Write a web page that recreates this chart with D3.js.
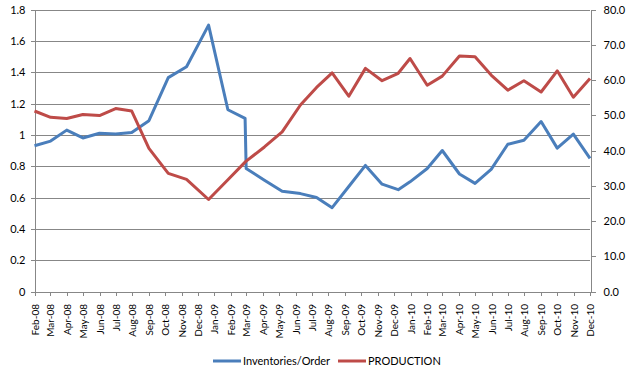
<!DOCTYPE html>
<html>
<head>
<meta charset="utf-8">
<script src="https://cdn.jsdelivr.net/npm/d3@7"></script>
<style>
  body { margin: 0; background: #fff; }
  svg text { font-family: Lato, "Liberation Sans", sans-serif; fill: #000; }
  .grid line { stroke: #878787; stroke-width: 1; }
  .axis path, .axis line { stroke: #878787; shape-rendering: crispEdges; }
</style>
</head>
<body>
<div id="chart"></div>
<script>
(function(){
  const obsDates = ['2008-02-01','2008-03-02','2008-04-01','2008-05-01','2008-06-01','2008-07-01',
    '2008-07-31','2008-09-01','2008-10-07','2008-11-10','2008-12-21','2009-01-26','2009-02-27',
    '2009-03-01','2009-04-04','2009-05-07','2009-06-10','2009-07-10','2009-08-08','2009-09-08',
    '2009-10-09','2009-11-09','2009-12-09','2009-12-31','2010-02-01','2010-03-01','2010-04-02',
    '2010-05-01','2010-05-31','2010-07-01','2010-07-31','2010-09-01','2010-10-01','2010-10-31',
    '2010-12-01'];

  // Inventories/Order, left axis
  const inventories = [0.93, 0.96, 1.03, 0.98, 1.01, 1.005, 1.015, 1.09, 1.365, 1.435, 1.70,
    1.16, 1.105, 0.785, 0.71, 0.64, 0.625, 0.60, 0.535, 0.67, 0.805, 0.685, 0.65, 0.70, 0.785,
    0.90, 0.75, 0.69, 0.78, 0.94, 0.965, 1.085, 0.915, 1.005, 0.85];

  // PRODUCTION, right axis
  const production = [51.2, 49.4, 49.1, 50.2, 49.9, 51.9, 51.2, 40.6, 33.5, 31.8, 26.1,
    31.7, 36.7, 37.0, 41.0, 45.3, 52.9, 57.9, 62.0, 55.4, 63.3, 59.8, 61.9, 66.1, 58.5,
    61.1, 66.8, 66.6, 61.4, 57.1, 59.8, 56.6, 62.6, 55.1, 60.4];

  const leftTicks = [0, 0.2, 0.4, 0.6, 0.8, 1, 1.2, 1.4, 1.6, 1.8];
  const rightTicks = [0, 10, 20, 30, 40, 50, 60, 70, 80];
  const seriesNames = ['Inventories/Order', 'PRODUCTION'];
  const seriesColors = ['#4a7ebb', '#be4b48'];

  const width = 638, height = 377;
  const plotLeft = 34, plotRight = 590, plotTop = 9.5, plotBottom = 291.5;

  const parse = d3.timeParse('%Y-%m-%d');
  const dates = obsDates.map(parse);
  const firstMonth = parse('2008-02-01'), lastMonth = parse('2010-12-01');

  const x = d3.scaleTime().domain([firstMonth, lastMonth]).range([plotLeft + 0.5, plotRight]);
  const yLeft = d3.scaleLinear().domain([0, 1.8]).range([plotBottom, plotTop]);
  const yRight = d3.scaleLinear().domain([0, 80]).range([plotBottom, plotTop]);

  const svg = d3.select('#chart').append('svg')
    .attr('width', width)
    .attr('height', height);

  //horizontal gridlines from the left axis
  svg.append('g').attr('class', 'grid')
    .selectAll('line')
    .data(leftTicks.filter(d => d > 0))
    .enter().append('line')
    .attr('x1', plotLeft)
    .attr('x2', plotRight)
    .attr('y1', d => Math.round(yLeft(d)) + 0.5)
    .attr('y2', d => Math.round(yLeft(d)) + 0.5);

  //left axis
  const leftAxis = svg.append('g')
    .attr('class', 'axis')
    .attr('transform', 'translate(' + (plotLeft + 0.5) + ',0)')
    .call(d3.axisLeft(yLeft).tickValues(leftTicks).tickSize(4).tickSizeOuter(0).tickPadding(5)
      .tickFormat(d => d3.format('')(+d.toFixed(1))));
  leftAxis.selectAll('text').style('font-size', '11px');

  //right axis
  const rightAxis = svg.append('g')
    .attr('class', 'axis')
    .attr('transform', 'translate(' + (plotRight + 0.5) + ',0)')
    .call(d3.axisRight(yRight).tickValues(rightTicks).tickSize(5).tickSizeOuter(0).tickPadding(8)
      .tickFormat(d3.format('.1f')));
  rightAxis.selectAll('text').style('font-size', '11px');

  //bottom axis, one label per month
  const months = d3.timeMonth.range(firstMonth, d3.timeMonth.offset(lastMonth, 1));
  const bottomAxis = svg.append('g')
    .attr('class', 'axis')
    .attr('transform', 'translate(0,' + (plotBottom + 0.5) + ')')
    .call(d3.axisBottom(x).tickValues(months).tickSize(4).tickSizeOuter(0)
      .tickFormat(d3.timeFormat('%b-%y')));
  bottomAxis.selectAll('text')
    .style('font-size', '10px')
    .attr('text-anchor', 'end')
    .attr('transform', 'rotate(-90)')
    .attr('x', -12)
    .attr('y', 0)
    .attr('dy', '0.35em');

  //lines
  const lineLeft = d3.line().x((d, i) => x(dates[i])).y(d => yLeft(d));
  const lineRight = d3.line().x((d, i) => x(dates[i])).y(d => yRight(d));

  svg.append('path')
    .datum(inventories)
    .attr('fill', 'none')
    .attr('stroke', seriesColors[0])
    .attr('stroke-width', 3)
    .attr('stroke-linejoin', 'round')
    .attr('d', lineLeft);

  svg.append('path')
    .datum(production)
    .attr('fill', 'none')
    .attr('stroke', seriesColors[1])
    .attr('stroke-width', 3)
    .attr('stroke-linejoin', 'round')
    .attr('d', lineRight);

  //legend
  const legendX = [213, 338];
  const legend = svg.append('g').attr('class', 'legend');
  seriesNames.forEach(function(name, i){
    legend.append('line')
      .attr('x1', legendX[i]).attr('x2', legendX[i] + 28)
      .attr('y1', 361).attr('y2', 361)
      .attr('stroke', seriesColors[i])
      .attr('stroke-width', 3);
    legend.append('text')
      .attr('x', legendX[i] + 30)
      .attr('y', 361)
      .attr('dy', '0.35em')
      .style('font-size', '11px')
      .text(name);
  });
})();
</script>
</body>
</html>
